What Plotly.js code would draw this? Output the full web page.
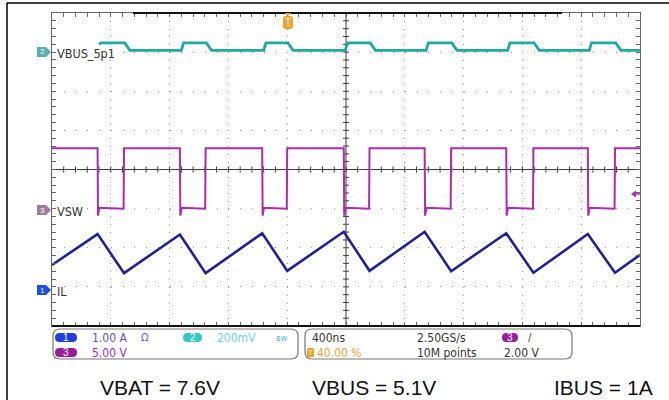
<!DOCTYPE html>
<html><head><meta charset="utf-8">
<script src="https://cdn.plot.ly/plotly-3.0.1.min.js"></script>
<style>html,body{margin:0;padding:0;background:#fff;}#chart{width:669px;height:400px;}</style>
</head><body><div id="chart"></div>
<script>
// ---------- data (time in ns, trigger at 0) ----------
const vswTime = [-1600,
  -1290,-1287,-1278,-1113,-1110,
  -730,-727,-718,-558,-555,
  -170,-167,-158,-3,0,
  385,388,397,557,560,
  935,938,947,1112,1115,
  1490,1493,1502,1672,1675,
  2045,2048,2057,2227,2230,
  2400];
const vswVolts = [7.7,
  7.7,-0.9,0.1,0.0,7.7,
  7.7,-0.9,0.1,0.0,7.7,
  7.7,-0.9,0.1,0.0,7.7,
  7.7,-0.9,0.1,0.0,7.7,
  7.7,-0.9,0.1,0.0,7.7,
  7.7,-0.9,0.1,0.0,7.7,
  7.7,-0.9,0.1,0.0,7.7,
  7.7];
const ilTime = [-1600,-1290,-1110,-730,-555,-170,0,385,560,935,1115,1490,1675,2045,2230,2400];
const ilAmps = [0.64,1.43,0.43,1.42,0.43,1.45,0.49,1.49,0.49,1.49,0.48,1.45,0.44,1.43,0.44,0.90];
// VBUS trace is hidden behind its label until about -1280 ns
const vbusTime = [
  -1280,-1268,-1105,-1088,-1070,
  -720,-705,-550,-533,-515,
  -160,-145,5,22,40,
  395,410,565,582,600,
  945,960,1120,1137,1155,
  1500,1515,1680,1697,1715,
  2055,2070,2235,2252,2270,
  2400];
const vbusMV = [
  40,47,47,30,9,
  9,47,47,30,9,
  9,47,47,30,9,
  9,47,47,30,9,
  9,47,47,30,9,
  9,47,47,30,9,
  9,47,47,30,9,
  9];
const channelLabels = ["VBUS_5p1","VSW","IL"];
const ch1Scale = "1.00 A", ch2Scale = "200mV", ch3Scale = "5.00 V";
const timebase = "400ns", trigPos = "40.00 %", sampleRate = "2.50GS/s", recordLen = "10M points", trigLevel = "2.00 V";
const footnotes = ["VBAT = 7.6V","VBUS = 5.1V","IBUS = 1A"];

// ---------- geometry helpers ----------
const L=52, T=13, PW=588, PH=313;
const px = x => (x-L)/PW;
const py = y => (T+PH-y)/PH;
function chanRange(scale, offsetDiv){ return [(-4-offsetDiv)*scale, (4-offsetDiv)*scale]; }
function rrPath(x0,y0,x1,y1,r){
  const P=(x,y)=>px(x)+','+py(y);
  return 'M'+P(x0+r,y0)+' L'+P(x1-r,y0)+' Q'+P(x1,y0)+' '+P(x1,y0+r)+' L'+P(x1,y1-r)+' Q'+P(x1,y1)+' '+P(x1-r,y1)+
    ' L'+P(x0+r,y1)+' Q'+P(x0,y1)+' '+P(x0,y1-r)+' L'+P(x0,y0+r)+' Q'+P(x0,y0)+' '+P(x0+r,y0)+' Z';
}
function polyPath(pts){ return 'M'+pts.map(p=>px(p[0])+','+py(p[1])).join(' L')+' Z'; }

const NARROW = 'Liberation Sans Narrow, DejaVu Sans Condensed, Arial Narrow, sans-serif';
const annotations = [];
function ann(text,x,y,color,size,opts){
  annotations.push(Object.assign({xref:'paper',yref:'paper',x:px(x),y:py(y),text:text,showarrow:false,
    xanchor:'left',yanchor:'middle',font:{family:NARROW,size:size,color:color}},opts||{}));
}

const shapes = [];
const GC = '#3c3c3c';
// center cross lines with ticks
shapes.push({type:'line',xref:'x',yref:'paper',x0:400,x1:400,y0:0,y1:1,line:{color:GC,width:1},layer:'between'});
shapes.push({type:'line',xref:'paper',yref:'y',x0:0,x1:1,y0:0,y1:0,line:{color:GC,width:1},layer:'between'});
for(let k=1;k<50;k++){ const t=-1600+80*k;
  shapes.push({type:'line',xref:'x',yref:'y',x0:t,x1:t,y0:-0.08,y1:0.08,line:{color:GC,width:1},layer:'between'}); }
for(let k=1;k<40;k++){ const d=-4+0.2*k;
  shapes.push({type:'line',xref:'x',yref:'y',x0:380,x1:420,y0:d,y1:d,line:{color:GC,width:1},layer:'between'}); }
// bottom border dark, top record bar
shapes.push({type:'line',xref:'paper',yref:'paper',x0:0,x1:1,y0:0,y1:0,line:{color:'#111',width:2}});
shapes.push({type:'line',xref:'paper',yref:'paper',x0:px(133),x1:px(562),y0:1,y1:1,line:{color:'#111',width:2}});
// outer frame
shapes.push({type:'line',xref:'paper',yref:'paper',x0:px(7),x1:px(7),y0:py(3),y1:py(400),line:{color:'#000',width:1.5}});
shapes.push({type:'line',xref:'paper',yref:'paper',x0:px(7),x1:px(669),y0:py(3),y1:py(3),line:{color:'#000',width:1.5}});

// channel ground markers on left
const markers = [
  {y:52, color:'#58b0a8', num:'2', label:channelLabels[0]},
  {y:210, color:'#9c7c9c', num:'3', label:channelLabels[1]},
  {y:290, color:'#1d4fe6', num:'1', label:channelLabels[2]}
];
markers.forEach(m=>{
  shapes.push({type:'path',xref:'paper',yref:'paper',path:polyPath([[37,m.y-5],[46,m.y-5],[51,m.y],[46,m.y+5],[37,m.y+5]]),
    fillcolor:m.color,line:{width:0}});
  ann(m.num,42,m.y,'#ffffff',8,{xanchor:'center',font:{family:'Liberation Sans, Arial',size:8,color:'#fff'}});
  ann(m.label,55,m.y+1,'#333333',12,{font:{family:NARROW,size:12.5,color:'#333'}});
});

// trigger marker at top
shapes.push({type:'path',xref:'paper',yref:'paper',path:polyPath([[285,13],[291,13],[288,16]]),fillcolor:'#f0a020',line:{width:0}});
shapes.push({type:'path',xref:'paper',yref:'paper',path:rrPath(283,16,293,29,3),fillcolor:'#f4a324',line:{width:0}});
ann('T',288,22.5,'#fff',10,{xanchor:'center',font:{family:'Liberation Sans, Arial',size:10,color:'#fff'}});
// trigger level arrow (right)
shapes.push({type:'path',xref:'paper',yref:'paper',path:polyPath([[631,194],[636,190.5],[636,197.5]]),fillcolor:'#b02ab0',line:{width:0}});
shapes.push({type:'line',xref:'paper',yref:'paper',x0:px(635),x1:px(640),y0:py(194),y1:py(194),line:{color:'#b02ab0',width:1.5}});

// info panels
shapes.push({type:'path',xref:'paper',yref:'paper',path:rrPath(53,329,298,359,7),line:{color:'#777',width:1.2},fillcolor:'rgba(0,0,0,0)'});
shapes.push({type:'path',xref:'paper',yref:'paper',path:rrPath(305,329,572,359,7),line:{color:'#777',width:1.2},fillcolor:'rgba(0,0,0,0)'});
function pill(x0,x1,y0,y1,color,num){
  shapes.push({type:'path',xref:'paper',yref:'paper',path:rrPath(x0,y0,x1,y1,(y1-y0)/2),fillcolor:color,line:{width:0}});
  ann(num,(x0+x1)/2,(y0+y1)/2,'#fff',10,{xanchor:'center',font:{family:'Liberation Sans, Arial',size:10,color:'#fff'}});
}
pill(55,77,333,342,'#1f3fdc','1');
ann(ch1Scale,90,337.5,'#5656cc',12);
ann('Ω',145,337.5,'#6a6ad0',11,{xanchor:'center'});
pill(183,202,333,342,'#35c6c6','2');
ann(ch2Scale,215,337.5,'#6cd3d3',12);
ann('ʙw',282,337.5,'#55bcbc',9,{xanchor:'center'});
pill(55,77,348,357,'#9a1c9a','3');
ann(ch3Scale,90,352.5,'#a52ea5',12);
ann(timebase,310,337.5,'#333',12);
shapes.push({type:'path',xref:'paper',yref:'paper',path:rrPath(307,348,314,357,1.5),fillcolor:'#f0a020',line:{width:0}});
ann('T',310.5,352.5,'#fff',8,{xanchor:'center',font:{family:'Liberation Sans, Arial',size:8,color:'#fff'}});
ann(trigPos,315,352.5,'#f0a030',12);
ann(sampleRate,415,337.5,'#333',12);
ann(recordLen,415,352.5,'#333',12);
pill(502,518,333,342,'#9a1c9a','3');
ann('/',530,337.5,'#444',11,{xanchor:'center'});
ann(trigLevel,502,352.5,'#333',12);

// footnotes
const fx=[160,373.5,603];
footnotes.forEach((s,i)=>annotations.push({xref:'paper',yref:'paper',x:px(fx[i]),y:py(387.5),text:s,showarrow:false,
  xanchor:'center',yanchor:'middle',font:{family:'Liberation Sans, Arial, sans-serif',size:21,color:'#111'}}));

// ---------- traces ----------
const traces = [
  {x:ilTime,y:ilAmps,yaxis:'y4',type:'scatter',mode:'lines',line:{color:'#20209a',width:2.6},hoverinfo:'skip'},
  {x:vswTime,y:vswVolts,yaxis:'y3',type:'scatter',mode:'lines',line:{color:'#b02ab0',width:2},hoverinfo:'skip'},
  {x:vbusTime,y:vbusMV,yaxis:'y2',type:'scatter',mode:'lines',line:{color:'#1fa9a3',width:2.8},hoverinfo:'skip'}
];

const hiddenAxis = r => ({range:r,overlaying:'y',visible:false,fixedrange:true,showgrid:false,zeroline:false});
const layout = {
  width:669,height:400,margin:{l:L,r:669-L-PW,t:T,b:400-T-PH,pad:0},
  paper_bgcolor:'#fff',plot_bgcolor:'#fff',showlegend:false,
  xaxis:{range:[-1600,2400],tick0:0,dtick:400,showgrid:true,gridcolor:'#9a9a9a',griddash:'1px,6.825px',gridwidth:1,
    showline:true,linecolor:'#666',linewidth:1,mirror:'ticks',ticks:'inside',ticklen:4,tickcolor:'#666',
    minor:{tick0:0,dtick:80,ticks:'inside',ticklen:4,tickcolor:'#666',showgrid:false},
    showticklabels:false,zeroline:false,fixedrange:true},
  yaxis:{range:[-4,4],tick0:0,dtick:1,showgrid:true,gridcolor:'#9a9a9a',griddash:'1px,10.76px',gridwidth:1,
    showline:true,linecolor:'#666',linewidth:1,mirror:'ticks',ticks:'inside',ticklen:4,tickcolor:'#666',
    minor:{tick0:0,dtick:0.2,ticks:'inside',ticklen:4,tickcolor:'#666',showgrid:false},
    showticklabels:false,zeroline:false,fixedrange:true},
  yaxis2:hiddenAxis(chanRange(200,3.0)),
  yaxis3:hiddenAxis(chanRange(5,-1.0)),
  yaxis4:hiddenAxis(chanRange(1,-3.08)),
  shapes:shapes,annotations:annotations
};
Plotly.newPlot('chart',traces,layout,{displayModeBar:false,staticPlot:true});
</script></body></html>
